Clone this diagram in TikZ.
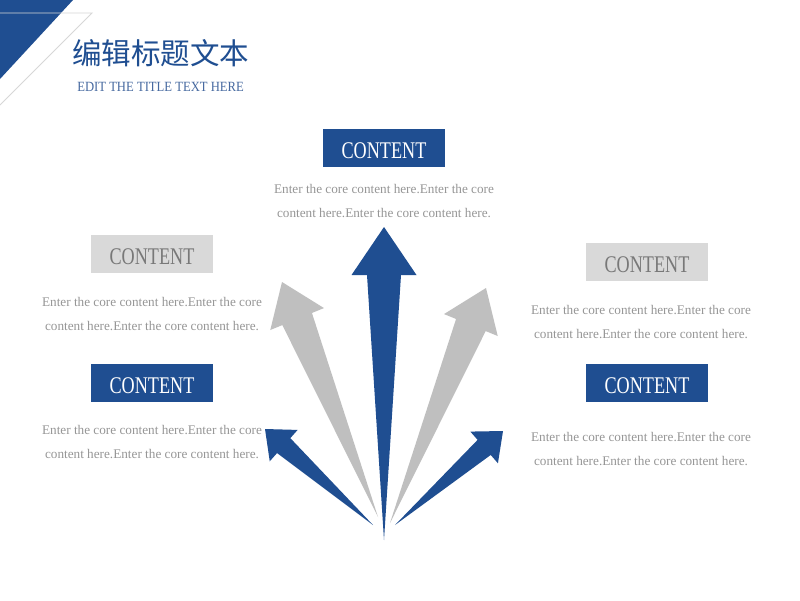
\documentclass[tikz,border=0pt]{standalone}
\usepackage{fontspec}
\setmainfont{Liberation Serif}
\newfontfamily\cjk{Noto Sans CJK SC}
\usetikzlibrary{calc}
\definecolor{mainblue}{RGB}{31,78,145}
\definecolor{subblue}{RGB}{70,105,160}
\definecolor{arrowgray}{RGB}{191,191,191}
\definecolor{boxgray}{RGB}{217,217,217}
\definecolor{boxtext}{RGB}{120,120,120}
\definecolor{bodygray}{RGB}{150,150,150}
\definecolor{linegray}{RGB}{215,215,215}
\newcommand{\fanarrow}[6]{%
  \coordinate (ah) at ($(#3)!#4*0.025cm!(#2)$);
  \fill[#1] (#2) -- ($(ah)!#6*0.025cm!90:(#3)$) -- ($(ah)!#5*0.025cm!90:(#3)$) -- (#3)
    -- ($(ah)!#5*0.025cm!-90:(#3)$) -- ($(ah)!#6*0.025cm!-90:(#3)$) -- cycle;}
\newcommand{\ctxt}{\scalebox{0.76}[1]{CONTENT}}
\tikzset{
  boxbase/.style={minimum width=3.025cm,minimum height=0.95cm,inner sep=0pt,text height=15.4pt,text depth=0pt,font=\fontsize{17}{17}\selectfont},
  bluebox/.style={boxbase,fill=mainblue,text=white},
  graybox/.style={boxbase,fill=boxgray,text=boxtext},
  bodytext/.style={text=bodygray,align=center,inner sep=0pt,font=\fontsize{9.4}{17}\selectfont},
}
\begin{document}
\begin{tikzpicture}[x=0.025cm,y=-0.025cm]
\useasboundingbox (0,0) rectangle (800,600);
\fill[white] (0,0) rectangle (800,600);
% corner decoration
\fill[mainblue] (0,0) -- (73,0) -- (0,79) -- cycle;
\coordinate (l1) at (0,13);
\coordinate (l2) at (92,13);
\coordinate (l3) at (0,105);
\draw[linegray,line width=0.7pt] (l1) -- (l2) -- (l3);
% title
\node[anchor=west,inner sep=0pt,text=mainblue,font=\cjk\fontsize{21}{21}\selectfont] (title) at (72,53) {编辑标题文本};
\node[anchor=west,inner sep=0pt,text=subblue,font=\fontsize{10}{10}\selectfont] (subtitle) at (77,87) {\scalebox{0.9}[1]{EDIT THE TITLE TEXT HERE}};
% arrows
\coordinate (gLB) at (378,517); \coordinate (gLT) at (282,282);
\coordinate (gRB) at (390,523); \coordinate (gRT) at (486,288);
\coordinate (bLB) at (373,525); \coordinate (bLT) at (265,429);
\coordinate (bRB) at (395,525); \coordinate (bRT) at (503,431);
\coordinate (cB) at (384,540); \coordinate (cT) at (384,227);
\fanarrow{arrowgray}{gLB}{gLT}{40}{29}{16}
\fanarrow{arrowgray}{gRB}{gRT}{40}{29}{16}
\fanarrow{mainblue}{bLB}{bLT}{25}{21}{10}
\fanarrow{mainblue}{bRB}{bRT}{25}{21}{10}
\fanarrow{mainblue}{cB}{cT}{48}{32.5}{17}
% boxes
\node[bluebox] (top) at (384,148) {\ctxt};
\node[graybox] (lg) at (152,254) {\ctxt};
\node[graybox] (rg) at (647,262) {\ctxt};
\node[bluebox] (lb) at (152,383) {\ctxt};
\node[bluebox] (rb) at (647,383) {\ctxt};
% texts
\node[bodytext] (ttop) at (384,201) {Enter the core content here.Enter the core\\content here.Enter the core content here.};
\node[bodytext] (tlg) at (152,314) {Enter the core content here.Enter the core\\content here.Enter the core content here.};
\node[bodytext] (trg) at (641,322) {Enter the core content here.Enter the core\\content here.Enter the core content here.};
\node[bodytext] (tlb) at (152,442) {Enter the core content here.Enter the core\\content here.Enter the core content here.};
\node[bodytext] (trb) at (641,449) {Enter the core content here.Enter the core\\content here.Enter the core content here.};
\end{tikzpicture}
\end{document}
